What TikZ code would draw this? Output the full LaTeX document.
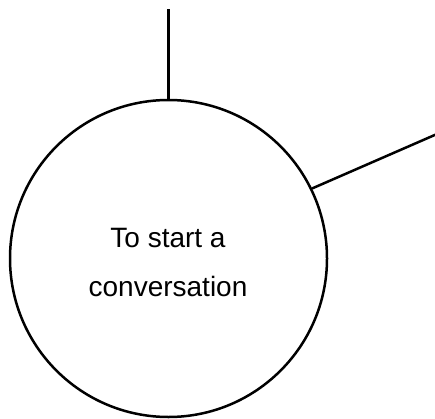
\documentclass[tikz,border=0pt]{standalone}
\usepackage{fontspec}
\newfontfamily\diagfont{Liberation Sans}
\usetikzlibrary{positioning, calc}

\begin{document}
\begin{tikzpicture}[
    x=1pt, y=1pt,
    topic/.style={circle, draw=black, line width=2.5pt, minimum size=317pt, inner sep=0pt},
    caption/.style={align=center, inner sep=0pt, font=\diagfont\fontsize{28}{49}\selectfont},
    link/.style={line width=2.5pt}
]
    \useasboundingbox (0,0) rectangle (435,418);
    \node[topic] (start) at (168.5,159.5) {};
    \node[caption] (starttext) at (168,155.5) {To start a\\conversation};

    % Loose ends of the branches
    \coordinate (topend) at (168.5,409);
    \coordinate (rightend) at (437,284);

    \draw[link] (start.north) -- (topend);
    \draw[link] (start.26) -- (rightend);
\end{tikzpicture}
\end{document}
